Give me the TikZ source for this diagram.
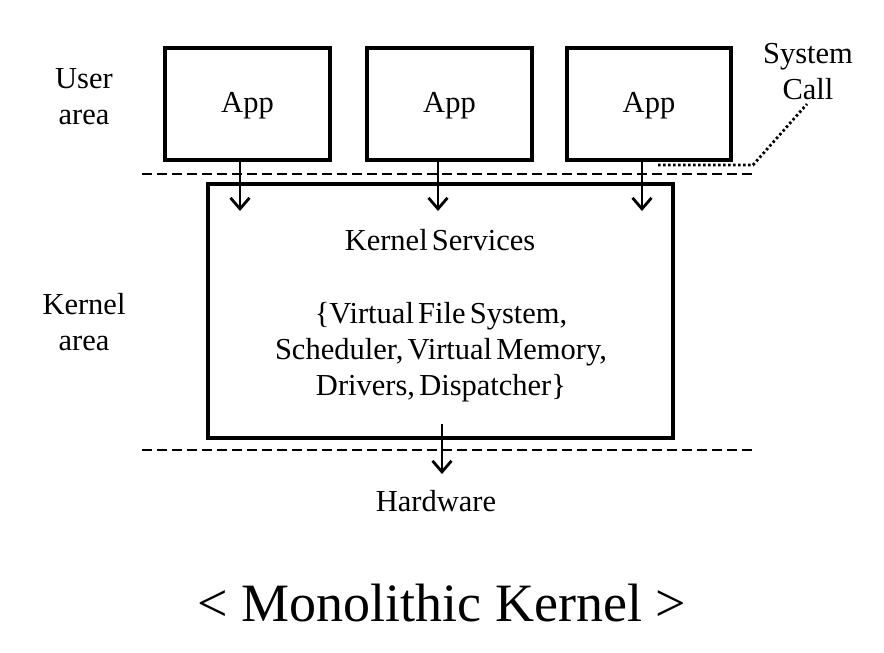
\documentclass[tikz,border=0pt]{standalone}
\usepackage{fontspec}
\setmainfont{Liberation Serif}
\newfontfamily\tightserif[WordSpace=0.55]{Liberation Serif}
\usetikzlibrary{arrows.meta}
\begin{document}
\begin{tikzpicture}[x=1pt,y=-1pt,
  box/.style={draw,line width=3.2pt},
  lbl/.style={font=\fontsize{30.5}{36}\selectfont,align=center,inner sep=0pt},
  tlbl/.style={font=\tightserif\fontsize{30.5}{36}\selectfont,align=center,inner sep=0pt},
  flow/.style={line width=2.8pt,-{Straight Barb[length=11pt,width=19pt,line width=2.8pt]}},
  sep/.style={line width=2.8pt,dash pattern=on 10pt off 5pt}]
\useasboundingbox (0,0) rectangle (884,653);
\draw[box] (165,48) rectangle (330,160);
\draw[box] (367,48) rectangle (532,160);
\draw[box] (567,48) rectangle (731,160);
\node[lbl] (app1) at (247.5,106) {App};
\node[lbl] (app2) at (449.5,106) {App};
\node[lbl] (app3) at (649,106) {App};
\coordinate (a1b) at (240,160);
\coordinate (a2b) at (438,160);
\coordinate (a3b) at (642,160);
\coordinate (a1e) at (240,211);
\coordinate (a2e) at (438,211);
\coordinate (a3e) at (642,211);
\draw[box] (208,184) rectangle (673,438);
\coordinate (tl) at (142,174);
\coordinate (tr) at (753,174);
\coordinate (bl) at (142,450);
\coordinate (br) at (753,450);
\draw[sep] (tl) -- (tr);
\draw[sep] (bl) -- (br);
\draw[flow] (a1b) -- (a1e);
\draw[flow] (a2b) -- (a2e);
\draw[flow] (a3b) -- (a3e);
\coordinate (kb) at (442,424);
\coordinate (hwt) at (442,474);
\draw[flow] (kb) -- (hwt);
\node[tlbl] (ks) at (440,240) {Kernel Services};
\node[tlbl] (kl) at (441,352) {\{Virtual File System,\\Scheduler, Virtual Memory,\\Drivers, Dispatcher\}};
\node[lbl] (hw) at (436,501) {Hardware};
\node[lbl] (ua) at (84,97) {User\\area};
\node[lbl] (ka) at (84,322) {Kernel\\area};
\node[lbl] (sc) at (808,72) {System\\Call};
\coordinate (d1) at (658,165);
\coordinate (d2) at (753,165);
\coordinate (d3) at (807,104);
\draw[line width=2.8pt,dash pattern=on 2.5pt off 2.5pt] (d1) -- (d2) -- (d3);
\node[font=\fontsize{54}{60}\selectfont,inner sep=0pt] (title) at (442,603) {< Monolithic Kernel >};
\end{tikzpicture}
\end{document}
